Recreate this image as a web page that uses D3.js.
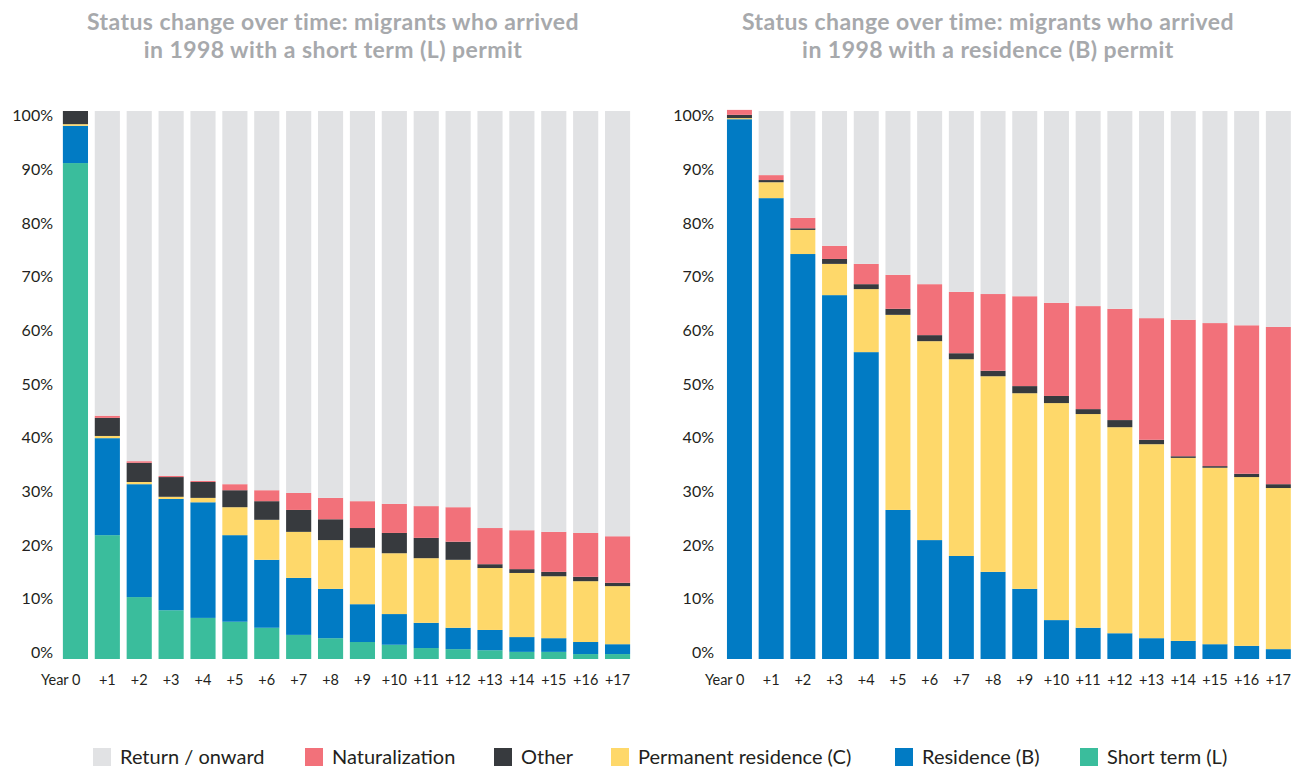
<!DOCTYPE html>
<html>
<head>
<meta charset="utf-8">
<script src="https://cdn.jsdelivr.net/npm/d3@7"></script>
<style>
  body { margin: 0; background: #fff; }
  svg { display: block; font-family: Lato, "Open Sans", sans-serif; }
</style>
</head>
<body>
<svg id="chart" width="1298" height="767"></svg>
<script>
const years = ["Year 0", "+1", "+2", "+3", "+4", "+5", "+6", "+7", "+8", "+9",
  "+10", "+11", "+12", "+13", "+14", "+15", "+16", "+17"];

const yTicks = [0, 10, 20, 30, 40, 50, 60, 70, 80, 90, 100];

// stack order, bottom to top
const statuses = ["Short term (L)", "Residence (B)", "Permanent residence (C)",
  "Other", "Naturalization", "Return / onward"];
const colours = ["#3abd9c", "#017bc4", "#fed86a", "#373a3e", "#f2717a", "#e1e2e4"];
const legendOrder = ["Return / onward", "Naturalization", "Other",
  "Permanent residence (C)", "Residence (B)", "Short term (L)"];

// left chart: arrived with a short term (L) permit, % of cohort
const lShortTerm = [90.5, 22.6, 11.3, 8.9, 7.5, 6.8, 5.7, 4.4, 3.8, 3.1, 2.6, 2.0, 1.8, 1.6, 1.3, 1.3, 0.9, 0.9];
const lResidence = [6.8, 17.7, 20.6, 20.3, 21.1, 15.8, 12.4, 10.4, 9.0, 6.9, 5.6, 4.6, 3.9, 3.7, 2.7, 2.5, 2.2, 1.8];
const lPermanent = [0.3, 0.4, 0.4, 0.4, 0.8, 5.1, 7.3, 8.4, 8.9, 10.3, 11.1, 11.8, 12.4, 11.3, 11.7, 11.3, 11.1, 10.6];
const lOther = [2.4, 3.3, 3.5, 3.6, 2.9, 3.1, 3.4, 4.0, 3.8, 3.6, 3.7, 3.7, 3.3, 0.7, 0.7, 0.8, 0.8, 0.6];
const lNaturalization = [0, 0.4, 0.3, 0.2, 0.2, 1.1, 2.0, 3.1, 3.9, 4.9, 5.3, 5.8, 6.3, 6.6, 7.1, 7.3, 8.0, 8.5];
const lReturn = [0, 55.6, 63.9, 66.6, 67.5, 68.1, 69.2, 69.7, 70.6, 71.2, 71.7, 72.1, 72.3, 76.1, 76.5, 76.8, 77.0, 77.6];

// right chart: arrived with a residence (B) permit, % of cohort
const bShortTerm = [0, 0, 0, 0, 0, 0, 0, 0, 0, 0, 0, 0, 0, 0, 0, 0, 0, 0];
const bResidence = [98.5, 84.1, 73.9, 66.4, 56.0, 27.2, 21.7, 18.8, 15.9, 12.8, 7.1, 5.7, 4.7, 3.8, 3.3, 2.7, 2.4, 1.8];
const bPermanent = [0.2, 2.9, 4.4, 5.7, 11.5, 35.6, 36.3, 35.9, 35.7, 35.7, 39.6, 39.0, 37.6, 35.4, 33.4, 32.2, 30.8, 29.4];
const bOther = [0.6, 0.4, 0.3, 0.9, 0.9, 1.1, 1.1, 1.1, 1.0, 1.3, 1.3, 0.9, 1.3, 0.8, 0.3, 0.3, 0.6, 0.7];
const bNaturalization = [0.9, 0.9, 1.9, 2.4, 3.7, 6.2, 9.3, 11.2, 14.0, 16.4, 17.0, 18.8, 20.3, 22.2, 24.9, 26.1, 27.1, 28.7];
const bReturn = [0, 11.7, 19.5, 24.6, 27.9, 29.9, 31.6, 33.0, 33.4, 33.8, 35.0, 35.6, 36.1, 37.8, 38.1, 38.7, 39.1, 39.4];

const svg = d3.select("#chart");

const colour = d3.scaleOrdinal().domain(statuses).range(colours);

// bars and tick labels sit on slightly different spans in the original
const y = d3.scaleLinear().domain([0, 100]).range([659, 111]);
const yLabel = d3.scaleLinear().domain([0, 100]).range([652, 115]);

function buildRows(series) {
  return years.map((year, i) => {
    const row = { year };
    statuses.forEach((s, j) => (row[s] = series[j][i]));
    return row;
  });
}

function drawPanel(opts) {
  const g = svg.append("g");
  const rows = buildRows(opts.series);
  const stacked = d3.stack().keys(statuses)(rows);

  const x = d3
    .scaleBand()
    .domain(years)
    .range(opts.xRange)
    .paddingInner(0.212)
    .paddingOuter(0.106);

  // title, two lines
  g.append("g")
    .selectAll("text")
    .data(opts.title)
    .join("text")
    .attr("x", opts.titleX)
    .attr("y", (d, i) => 30 + i * 28)
    .attr("text-anchor", "middle")
    .attr("fill", "#a7a9ac")
    .attr("font-weight", "bold")
    .attr("font-size", "23px")
    .attr("letter-spacing", "0.45px")
    .text((d) => d);

  // bars
  g.append("g")
    .selectAll("g")
    .data(stacked)
    .join("g")
    .attr("fill", (d) => colour(d.key))
    .selectAll("rect")
    .data((d) => d.filter((p) => p[1] - p[0] > 0))
    .join("rect")
    .attr("x", (d) => x(d.data.year))
    .attr("width", x.bandwidth())
    .attr("y", (d) => y(d[1]))
    .attr("height", (d) => y(d[0]) - y(d[1]));

  // y axis, labels only
  const yAxis = g
    .append("g")
    .attr("transform", `translate(${opts.yAxisX},0)`)
    .call(
      d3.axisLeft(yLabel)
        .tickValues(yTicks)
        .tickFormat((d) => d + "%")
        .tickSize(0)
        .tickPadding(0)
    );
  yAxis.select(".domain").remove();
  yAxis
    .selectAll("text")
    .attr("font-family", "Lato, 'Open Sans', sans-serif")
    .attr("font-size", "16px")
    .attr("fill", "#231f20")
    .attr("dy", "0.35em");

  // x axis, labels only
  const xAxis = g
    .append("g")
    .attr("transform", "translate(0,680)")
    .call(d3.axisBottom(x).tickSize(0).tickPadding(0));
  xAxis.select(".domain").remove();
  xAxis
    .selectAll("text")
    .attr("font-family", "Lato, 'Open Sans', sans-serif")
    .attr("font-size", "14.5px")
    .attr("fill", "#231f20")
    .attr("dy", "0.35em")
    .attr("text-anchor", (d, i) => (i === 0 ? "end" : "middle"))
    .attr("dx", (d, i) => (i === 0 ? 5 : 0));
}

drawPanel({
  series: [lShortTerm, lResidence, lPermanent, lOther, lNaturalization, lReturn],
  xRange: [59.5, 633.5],
  yAxisX: 53,
  titleX: 333,
  title: ["Status change over time: migrants who arrived",
    "in 1998 with a short term (L) permit"],
});

drawPanel({
  series: [bShortTerm, bResidence, bPermanent, bOther, bNaturalization, bReturn],
  xRange: [723.6, 1294.2],
  yAxisX: 714,
  titleX: 988,
  title: ["Status change over time: migrants who arrived",
    "in 1998 with a residence (B) permit"],
});

// legend
const legendX = [93, 305, 494, 611, 895, 1080];
const legend = svg
  .append("g")
  .selectAll("g")
  .data(legendOrder)
  .join("g")
  .attr("transform", (d, i) => `translate(${legendX[i]},748)`);

legend
  .append("rect")
  .attr("width", 18)
  .attr("height", 18)
  .attr("fill", (d) => colour(d));

legend
  .append("text")
  .attr("x", 27)
  .attr("y", 9)
  .attr("dy", "0.35em")
  .attr("font-size", "20px")
  .attr("fill", "#231f20")
  .text((d) => d);
</script>
</body>
</html>
